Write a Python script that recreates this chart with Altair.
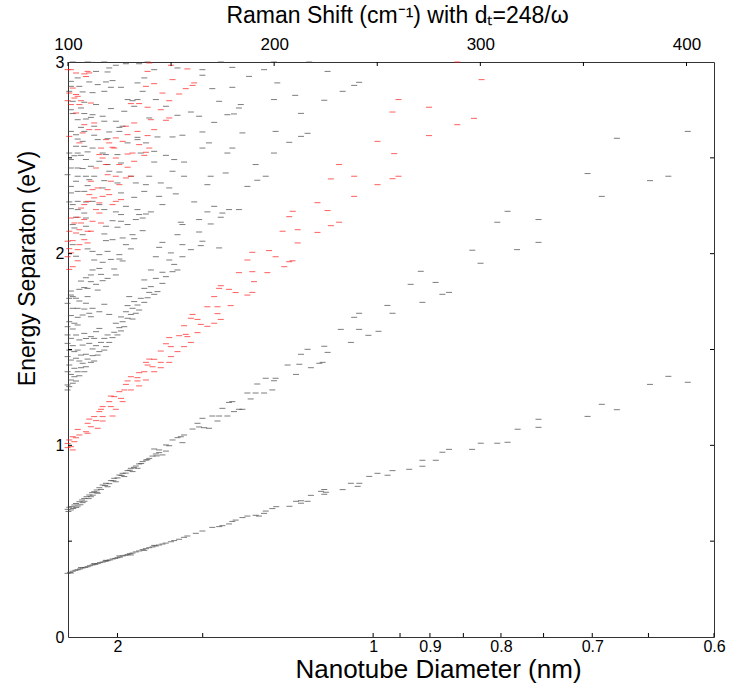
import altair as alt
import pandas as pd

# ---------------- data: (Raman shift cm-1, energy eV) ----------------
S11 = [(99.8,0.332),(101.0,0.337),(101.4,0.334),(102.3,0.343),(103.6,0.348),(104.7,0.351),(105.8,0.355),(106.3,0.362),(107.1,0.360),(108.4,0.363),(109.5,0.367),(110.6,0.372),(111.9,0.376),(112.7,0.383),(113.2,0.379),(114.4,0.383),(115.5,0.388),(116.8,0.391),(118.1,0.395),(118.4,0.400),(119.2,0.398),(120.3,0.402),(121.6,0.407),(122.9,0.410),(124.0,0.414),(124.9,0.423),(125.2,0.417),(126.5,0.423),(127.8,0.426),(128.9,0.430),(130.0,0.435),(130.5,0.428),(131.3,0.438),(132.9,0.444),(134.5,0.449),(136.2,0.456),(137.0,0.452),(137.8,0.461),(139.4,0.466),(141.0,0.470),(141.8,0.478),(142.6,0.475),(144.2,0.480),(145.8,0.485),(147.4,0.490),(149.9,0.497),(151.5,0.503),
       (153.9,0.510),(156.3,0.520),(157.9,0.527),(162.0,0.541),(165.2,0.553),(170.0,0.572),(173.3,0.576),(174.9,0.581),(178.1,0.590),(179.7,0.603),(181.3,0.610),(184.6,0.623),(187.0,0.631),(191.0,0.635),(192.6,0.631),(195.1,0.645),(195.9,0.657),(199.1,0.670),(201.0,0.680),
       (207.4,0.682),(210.6,0.708),(213.0,0.711),(213.0,0.698),(216.2,0.708),(217.8,0.739),(222.7,0.760),(224.3,0.770),(225.1,0.755),(224.3,0.745),(233.2,0.769),(237.2,0.802),(241.3,0.802),(240.5,0.786),(246.1,0.838),(250.1,0.854),(255.0,0.844),(257.4,0.868),(265.5,0.875),(271.9,0.891),(271.9,0.922),(278.4,0.922),(281.6,0.964),
       (284.8,0.979),(296.0,0.979),(300.2,1.011),(308.2,1.011),(313.2,1.016),(318.1,1.084),(328.2,1.094),(328.2,1.136),(352.0,1.151),(358.9,1.214),(366.2,1.186),(382.3,1.318),(391.2,1.360),(400.6,1.329)]

S22 = [(99.8,0.666),(100.6,0.677),(101.9,0.680),(101.4,0.663),(103.1,0.689),(103.9,0.697),(104.7,0.683),(105.5,0.706),(106.8,0.715),(107.9,0.723),(107.1,0.701),(109.0,0.732),(110.3,0.741),(111.6,0.753),(111.1,0.732),(112.7,0.758),(113.9,0.767),(115.2,0.779),(114.4,0.750),(116.8,0.793),(118.4,0.802),(119.2,0.784),(120.8,0.816),(122.4,0.828),(123.2,0.810),(124.9,0.845),(126.5,0.854),(127.3,0.837),(128.9,0.868),(130.5,0.880),(131.3,0.863),(132.9,0.892),(134.5,0.903),(133.7,0.880),(136.2,0.915),(137.8,0.923),(139.4,0.932),(141.0,0.944),(142.6,0.955),(144.2,0.962),(145.8,0.950),(147.5,0.970),
       (100.2,0.655),(102.5,0.670),(104.0,0.676),(106.0,0.690),(108.0,0.708),(110.0,0.722),(112.0,0.740),(114.0,0.755),(116.0,0.770),(118.0,0.790),(120.0,0.800),(122.0,0.815),(124.0,0.830),(126.0,0.843),(128.0,0.855),(130.0,0.870),(132.0,0.885),(135.5,0.905),(138.5,0.925),(143.0,0.945),
       (141.8,0.981),(144.2,0.976),(147.5,1.002),(149.1,0.998),(150.7,1.028),(153.1,1.040),(154.7,1.045),(156.3,1.054),(155.5,1.014),(160.4,1.085),(162.8,1.115),(163.6,1.096),(165.2,1.141),(166.0,1.092),(168.4,1.089),(170.0,1.153),(172.5,1.127),(173.3,1.153),(174.9,1.193),(177.3,1.153),(178.1,1.224),(179.7,1.228),(180.5,1.176),(182.9,1.188),(184.6,1.188),(187.0,1.273),(188.6,1.242),(191.0,1.273),(191.8,1.320),(195.1,1.273),(195.9,1.350),(199.1,1.289),(199.9,1.337),(200.7,1.350),
       (206.5,1.419),(210.6,1.370),(212.2,1.423),(213.0,1.475),(216.2,1.501),(217.8,1.405),(221.9,1.428),(223.5,1.433),(224.3,1.517),(225.9,1.485),(232.3,1.605),(237.2,1.537),(238.8,1.668),(241.2,1.689),(241.2,1.605),(245.7,1.574),(250.6,1.595),(254.9,1.730),(257.4,1.689),(266.2,1.840),(271.1,1.908),(271.9,1.746),(278.3,1.850),(281.6,1.788),(284.8,1.798),(300.1,1.950),
       (296.1,2.018),(308.2,2.164),(313.2,2.221),(317.8,2.021),(328.2,2.059),(328.2,2.178),(358.9,2.299),(352.0,2.418),(382.3,2.381),(391.2,2.404),(366.2,2.602),(400.6,2.638)]

S33 = [(99.8,1.289),(100.6,1.306),(99.8,1.315),(102.3,1.324),(101.4,1.341),(103.9,1.336),(103.1,1.358),(105.5,1.363),(104.7,1.384),(107.9,1.384),(106.3,1.405),(108.7,1.410),(107.1,1.428),(111.1,1.433),(109.5,1.450),(112.7,1.440),(111.9,1.468),(108.7,1.475),(114.4,1.471),(115.2,1.489),(111.9,1.503),(117.6,1.497),(113.6,1.520),(118.4,1.515),(116.0,1.537),(120.0,1.537),(117.6,1.558),(121.6,1.562),(119.2,1.576),(124.0,1.576),(122.4,1.590),(125.7,1.597),(124.9,1.614),(127.3,1.619),(123.2,1.637),(126.5,1.645),(128.9,1.663),(131.3,1.659),(125.7,1.670),(130.5,1.683),(132.9,1.689),(128.1,1.697),(134.5,1.706),(131.3,1.715),(128.9,1.729),(133.7,1.732),(137.0,1.746),(132.1,1.750),(135.3,1.767),(138.6,1.770),(129.7,1.776),(141.8,1.788),(139.4,1.798),(143.4,1.802),(137.0,1.819),(140.2,1.828),(145.8,1.845),(137.0,1.863),(142.6,1.871),(147.5,1.880),(150.7,1.906),(145.8,1.903),(153.1,1.915),(140.2,1.915),(151.5,1.944),(149.1,1.967),(155.5,1.984),(142.6,1.984),
       (99.8,1.576),(101.4,1.558),(99.8,1.532),(102.3,1.520),(100.6,1.497),(103.1,1.489),(99.8,1.463),(101.4,1.445),(103.9,1.454),(100.6,1.419),(103.1,1.402),(99.8,1.384),(101.4,1.370),(105.5,1.440),(106.3,1.471),(104.7,1.497),(107.1,1.523),(105.5,1.550),(108.7,1.558),(103.9,1.576),(107.9,1.584),(111.1,1.567),(113.6,1.593),(115.2,1.610),(112.7,1.558),(110.3,1.532)]

S44 = [(99.8,1.741),(100.6,1.767),(102.3,1.776),(101.4,1.784),(105.5,1.753),(103.9,1.767),(102.3,1.715),(104.7,1.715),(107.9,1.711),(101.4,1.677),(104.7,1.668),(107.1,1.680),(110.3,1.689),(100.6,1.645),(103.1,1.637),(99.8,1.619),(102.3,1.607),(104.7,1.628),(111.1,1.671),(111.9,1.715),(115.2,1.697),(117.6,1.736),(120.0,1.683),(108.7,1.741),(109.5,1.776),(111.1,1.854),(108.7,1.875),(106.3,1.857),(111.1,1.889),(109.5,1.819),(114.4,1.810),(116.8,1.859),(113.6,1.840),(116.0,1.892),(122.4,1.920),(126.5,1.962),(111.9,1.915),(115.2,1.923),(107.9,1.823),(105.5,1.814),(101.4,1.805),(112.7,1.967),(116.8,1.955),(120.8,1.970),(124.9,1.972),(119.2,1.871),(123.2,1.889)]

S_UPPER = [(102.3,3.0),(109.5,3.0),(117.6,3.0),(138.6,3.0),(174.1,3.0),(199.9,3.0),(111.9,2.998),(123.2,2.983),(128.1,2.991),(134.5,2.991),(120.0,2.969),(119.2,2.948),(113.6,2.951),(141.8,2.960),(153.1,2.969),(179.7,2.972),(195.1,2.960),(165.2,2.960),
           (104.7,2.917),(110.3,2.896),(101.4,2.899),(118.4,2.896),(121.6,2.903),(133.7,2.891),(137.0,2.917),(165.2,2.931),(187.8,2.925),(201.5,2.891),(170.0,2.861),(179.7,2.868),(101.4,2.873),(105.5,2.873),(114.4,2.882),(120.8,2.868),(125.7,2.868),(136.2,2.847),(117.6,2.847),(100.6,2.847),(107.1,2.844),(111.9,2.840),
           (128.9,2.804),(131.3,2.798),(133.7,2.804),(142.6,2.804),(173.3,2.795),(183.8,2.778),(199.9,2.804),(182.9,2.760),(102.3,2.795),(107.9,2.790),(113.6,2.778),(120.8,2.757),(127.3,2.743),(132.1,2.769),(101.4,2.751),(106.3,2.760),(147.5,2.769),
           (102.3,2.731),(107.9,2.731),(111.9,2.725),(116.8,2.717),(139.4,2.708),(153.1,2.722),(159.6,2.739),(163.6,2.717),(170.9,2.685),(177.3,2.725),(180.5,2.729),(104.7,2.699),(108.7,2.703),(111.1,2.711),(117.6,2.691),(123.2,2.691),(124.9,2.659),(126.5,2.665),(106.3,2.659),(112.7,2.665),
           (101.4,2.638),(103.9,2.621),(107.9,2.638),(112.7,2.618),(120.0,2.635),(124.9,2.638),(133.7,2.607),(143.4,2.609),(150.7,2.609),(155.5,2.618),(165.2,2.635),(184.6,2.630),(200.7,2.638),(104.7,2.598),(107.1,2.586),(114.4,2.595),(119.2,2.600),(128.9,2.578),(133.7,2.595),(137.8,2.578),(168.4,2.578),(165.2,2.551),(179.7,2.551),
           (103.9,2.560),(107.9,2.560),(111.9,2.551),(100.6,2.525),(104.7,2.525),(109.5,2.531),(116.8,2.525),(118.4,2.517),(124.0,2.517),(135.3,2.525),(141.8,2.534),(147.5,2.513),(177.3,2.525),(199.9,2.525),(103.1,2.511),(106.3,2.513),
           (101.4,2.491),(108.7,2.491),(115.2,2.482),(119.2,2.465),(125.7,2.473),(141.8,2.478),(151.5,2.491),(156.3,2.478),(191.0,2.465),(101.4,2.447),(104.7,2.447),(107.1,2.444),(111.1,2.456),(120.0,2.430),(124.9,2.426),(130.5,2.404),(139.4,2.404),(150.7,2.430),(156.3,2.404),(169.2,2.404),(176.5,2.421),(195.9,2.404),
           (99.8,2.412),(104.7,2.404),(108.7,2.404),(112.7,2.404),(103.9,2.378),(110.3,2.386),(117.6,2.381),(124.0,2.369),(132.9,2.369),(137.8,2.360),(145.0,2.369),(149.1,2.343),(167.6,2.360),(187.0,2.351),(191.8,2.383),
           (101.4,2.351),(109.5,2.355),(116.8,2.343),(125.7,2.317),(132.1,2.294),(137.0,2.325),(144.2,2.299),(152.3,2.312),(170.9,2.247),(174.9,2.212),(178.1,2.230),(182.9,2.230),(101.4,2.317),(104.7,2.325),(107.9,2.325),
           (100.6,2.270),(104.7,2.273),(108.7,2.270),(111.9,2.273),(102.3,2.256),(115.2,2.256),(128.1,2.247),(133.7,2.230),(134.5,2.204),(145.8,2.256),(161.2,2.270),(167.6,2.218),(101.4,2.235),(104.7,2.230),(107.9,2.212),(117.6,2.230),(123.2,2.218),(125.7,2.204),(137.8,2.207),(140.2,2.218),
           (103.9,2.190),(108.7,2.186),(121.6,2.172),(125.7,2.169),(128.9,2.152),(132.9,2.178),(136.2,2.186),(154.7,2.164),(155.5,2.152),(163.6,2.178),(169.2,2.155),(174.1,2.190),(102.3,2.152),(108.7,2.143),(118.4,2.143),(124.0,2.138),(136.2,2.120),(131.3,2.099),(145.8,2.059),(153.1,2.099),(163.6,2.113),(165.2,2.065),(155.5,2.047),
           (103.1,2.134),(107.1,2.099),(117.6,2.103),(118.4,2.068),(121.6,2.073),(126.5,2.082),(132.1,2.078),(128.1,2.047),(130.5,2.025),(144.2,2.033),(149.9,2.004),(159.6,2.021),(164.4,2.042),(173.3,2.030),(119.2,2.012),(115.2,1.995),(124.9,1.995),(103.9,1.986),(109.5,2.025),(111.9,2.012),(102.3,2.047),
           (207.3,2.581),(213.0,2.612),(216.2,2.628),(213.0,2.732),(224.3,2.800),(210.2,2.826),(233.2,2.847),(238.8,2.878),(241.2,2.894),(225.9,2.951),(217.0,3.0)]

M11 = [(187.0,1.967),(200.7,1.984),(182.9,1.901),(189.4,1.906),(196.7,1.901),(190.2,1.854),(174.1,1.833),(173.3,1.819),(178.1,1.814),(181.3,1.797),(189.4,1.798),(187.0,1.784),(170.9,1.776),(167.6,1.723),(172.5,1.723),(178.9,1.729),(160.4,1.683),(159.6,1.663),(162.8,1.657),(172.5,1.687),(174.1,1.657),(164.4,1.631),(170.9,1.637),(167.6,1.621),(156.3,1.624),(157.1,1.579),(162.8,1.588),(149.1,1.562),(153.9,1.572),(157.9,1.567),(147.5,1.530),(149.9,1.515),(159.6,1.537),(156.3,1.515),(145.0,1.492),(153.1,1.489),(149.9,1.463),(139.4,1.450),(141.8,1.449),(145.0,1.433),(149.1,1.433),(137.8,1.433),(138.6,1.419),(137.0,1.384),(141.0,1.410),(145.0,1.405),(134.5,1.379),(141.8,1.384),(130.5,1.358),(133.7,1.353),(137.8,1.341),(133.7,1.336),(128.9,1.336),(128.1,1.318),(134.5,1.310),(127.3,1.289),(130.5,1.289),(124.9,1.280),(120.8,1.257),(122.4,1.254),(125.7,1.245),(126.5,1.228),(120.0,1.228),(120.8,1.202),(116.8,1.202),(123.2,1.188),(116.0,1.188),(115.2,1.176),(112.7,1.150),(116.8,1.150),(121.6,1.153),(110.3,1.137),(113.6,1.129),(116.8,1.127),(109.5,1.115),(111.1,1.097),(114.4,1.089),(104.7,1.083),(108.7,1.071),(105.5,1.054),(102.3,1.045),(109.5,1.063),(103.9,1.040),(100.6,1.028),(103.1,1.019),(99.8,1.010),(101.4,0.993),(99.8,0.988),(102.3,0.976),
       (208.9,1.963),(207.3,1.958),(204.9,1.932),(189.4,2.007),(197.5,2.016),
       (300.6,2.908),(260.3,2.804),(275.1,2.764),(296.9,2.706),(257.4,2.739),(288.8,2.673),(275.1,2.616),(250.1,2.586),(258.2,2.522),(231.5,2.465),(238.8,2.404),(260.3,2.404),(227.5,2.390),(257.4,2.391),(250.1,2.360),(238.8,2.299),(221.0,2.266),(225.9,2.225),(209.0,2.221),(207.3,2.193),(204.1,2.117),(211.4,2.125),(221.0,2.111),(231.5,2.164),(227.5,2.146),(211.4,2.056),(288.8,3.0)]

M22 = [(99.8,2.960),(101.4,2.960),(103.9,2.943),(107.9,2.938),(109.5,2.951),(108.7,2.925),(110.3,2.943),(102.3,2.864),(100.6,2.838),(103.9,2.830),(104.7,2.821),(103.1,2.812),(101.4,2.778),(106.3,2.798),(99.8,2.798),(105.5,2.778),(111.1,2.786),(103.9,2.734),(112.7,2.682),(107.9,2.673),(110.3,2.647),(107.1,2.630),(100.6,2.612),(105.5,2.578),(114.4,2.647),(116.0,2.551),(115.2,2.517),(122.4,2.551),(118.4,2.595),(120.0,2.578),(116.8,2.499),(113.6,2.447),(119.2,2.412),(123.2,2.404),(120.8,2.378),(124.9,2.360),(128.1,2.395),(130.5,2.404),(111.1,2.378),(114.4,2.343),(111.9,2.334),(119.2,2.334),(120.0,2.308),(116.8,2.299),(112.7,2.291),(110.3,2.308),(109.5,2.273),(107.9,2.256),(106.3,2.238),(115.2,2.265),(123.2,2.273),(125.7,2.282),(121.6,2.256),(113.6,2.230),(115.2,2.212),(111.9,2.169),(116.0,2.160),(107.9,2.178),(104.7,2.190),(101.4,2.186),(103.1,2.160),(106.3,2.160),(109.5,2.117),(111.1,2.117),(105.5,2.125),(100.6,2.117),(103.9,2.108),(107.9,2.073),(109.5,2.056),(105.5,2.047),(102.3,2.068),(104.7,2.021),(101.4,2.004),(100.6,2.026),(99.8,2.065),
       (99.8,1.984),(104.7,1.963),(102.3,1.932),(100.6,1.918),
       (139.4,2.995),(149.9,2.983),(138.6,2.951),(157.9,2.964),(150.7,2.908),(141.8,2.887),(137.8,2.873),(161.2,2.891),(160.4,2.878),(157.1,2.861),(153.9,2.833),(145.8,2.838),(130.5,2.783),(134.5,2.783),(138.6,2.764),(149.1,2.798),(145.0,2.751),(149.1,2.708),(147.5,2.696),(140.2,2.699),(132.1,2.682),(128.1,2.665),(141.8,2.647),(138.6,2.616),(133.7,2.638),(123.2,2.604),(128.9,2.621),(126.5,2.586),(121.6,2.555),(134.5,2.569),(139.4,2.551),(137.8,2.529),(131.3,2.525),(128.9,2.520),(137.0,2.513),(123.2,2.499),(124.9,2.465),(128.9,2.451),(132.1,2.482),(118.4,2.465)]

# axis definitions
DIAM_TICKS = [2, 1.5, 1, 0.95, 0.9, 0.85, 0.8, 0.75, 0.7, 0.65, 0.6]
DIAM_LABELS = {2: "2", 1: "1", 0.9: "0.9", 0.8: "0.8", 0.7: "0.7", 0.6: "0.6"}
RAMAN_TICKS = [100, 150, 200, 250, 300, 350, 400]
ENERGY_LABELS = [0, 1, 2, 3]
ENERGY_MINOR = [0.5, 1, 1.5, 2, 2.5]


def frame(pts, kind):
    return pd.DataFrame(pts, columns=["raman", "energy"]).assign(kind=kind)


semi_df = pd.concat([frame(p, "semiconducting") for p in (S11, S22, S33, S44, S_UPPER)])
metal_df = pd.concat([frame(p, "metallic") for p in (M11, M22)])

bottom_vals = [248.0 / d for d in DIAM_TICKS]
parts = [f"abs(datum.value - {v:.3f}) < 0.5 ? '{DIAM_LABELS.get(d, '')}'" for d, v in zip(DIAM_TICKS, bottom_vals)]
bottom_expr = " : ".join(parts) + " : ''"

W, H = 646, 575
xs = alt.Scale(domain=[100, 248.0 / 0.6], nice=False, zero=False)
ys = alt.Scale(domain=[0, 3], nice=False, zero=False)
FONT = "Liberation Sans"

semi = alt.Chart(semi_df).mark_tick(orient="horizontal", size=6, thickness=1, color="#444444").encode(
    x=alt.X("raman:Q", scale=xs, axis=alt.Axis(
        orient="bottom", values=bottom_vals, labelExpr=bottom_expr, tickSize=0, domain=False, grid=False,
        labelFontSize=16, labelPadding=1, labelColor="#000", labelFont=FONT, labelFlush=False,
        title="Nanotube Diameter (nm)", titleFontSize=26, titleFontWeight="normal", titleFont=FONT,
        titleColor="#000", titleX=370, titleY=19, titleBaseline="top", titleAlign="center")),
    y=alt.Y("energy:Q", scale=ys, axis=alt.Axis(
        orient="left", values=ENERGY_LABELS, format="d", tickSize=0, domain=False, grid=False,
        labelFontSize=16, labelPadding=4, labelColor="#000", labelFont=FONT, labelFlush=False,
        title="Energy Separaton (eV)", titleFontSize=23, titleFontWeight="normal", titleFont=FONT,
        titleColor="#000", titleX=-41, titleY=206, titleBaseline="middle", titleAlign="center", titleAngle=270)),
)

metal = alt.Chart(metal_df).mark_tick(orient="horizontal", size=6, thickness=1, color="#ff1a1a").encode(
    x=alt.X("raman:Q", scale=xs, axis=alt.Axis(
        orient="top", values=RAMAN_TICKS, labelExpr="datum.value % 100 == 0 ? datum.label : ''",
        tickSize=0, domain=False, grid=False, labelFontSize=17, labelPadding=9, labelColor="#000", labelFont=FONT,
        labelFlush=False,
        title="Raman Shift (cm⁻¹) with dₜ=248/ω", titleFontSize=23, titleFontWeight="normal", titleFont=FONT,
        titleColor="#000", titleX=329, titleY=-47, titleBaseline="middle", titleAlign="center")),
    y=alt.Y("energy:Q", scale=ys, axis=None),
)

# inward tick marks
ytick_df = pd.DataFrame({"energy": ENERGY_MINOR})
bt_df = pd.DataFrame({"raman": bottom_vals})
tt_df = pd.DataFrame({"raman": RAMAN_TICKS})
tick_style = dict(color="#000", strokeWidth=1)
left_ticks = alt.Chart(ytick_df).mark_rule(**tick_style).encode(
    y=alt.Y("energy:Q", scale=ys, axis=None), x=alt.value(0), x2=alt.value(4))
right_ticks = alt.Chart(ytick_df).mark_rule(**tick_style).encode(
    y=alt.Y("energy:Q", scale=ys, axis=None), x=alt.value(W - 4), x2=alt.value(W))
bottom_ticks = alt.Chart(bt_df).mark_rule(**tick_style).encode(
    x=alt.X("raman:Q", scale=xs, axis=None), y=alt.value(H - 4), y2=alt.value(H))
top_ticks = alt.Chart(tt_df).mark_rule(**tick_style).encode(
    x=alt.X("raman:Q", scale=xs, axis=None), y=alt.value(0), y2=alt.value(4))

chart = alt.layer(semi, metal, left_ticks, right_ticks, bottom_ticks, top_ticks).resolve_axis(
    x="independent", y="independent"
).properties(
    width=W, height=H,
    autosize=alt.AutoSizeParams(type="none"),
    padding={"left": 68, "top": 62, "right": 15, "bottom": 50},
    background="white",
).configure_view(stroke="#333333", strokeWidth=1)

chart.save("out.html", embed_options={"renderer": "svg", "actions": False})
